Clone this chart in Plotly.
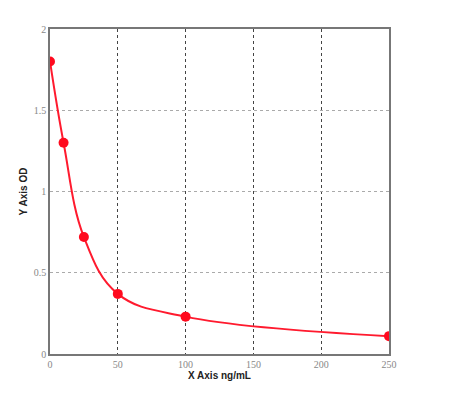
import plotly.graph_objects as go

conc = [0, 10, 25, 50, 100, 250]
od = [1.80, 1.30, 0.72, 0.37, 0.23, 0.11]
x_ticks = [0, 50, 100, 150, 200, 250]
y_ticks = [0, 0.5, 1, 1.5, 2]
y_tick_text = ["0", "0.5", "1", "1.5", "2"]

fig = go.Figure()
fig.add_trace(go.Scatter(
    x=conc, y=od, mode="lines",
    line=dict(color="#ff1a2e", width=2, shape="spline", smoothing=1.1),
    hoverinfo="skip", showlegend=False))
fig.add_trace(go.Scatter(
    x=conc, y=od, mode="markers",
    marker=dict(color="#ff0a1e", size=10),
    showlegend=False))

fig.update_layout(
    width=450, height=403,
    margin=dict(l=42, r=69, t=21, b=57, autoexpand=False),
    paper_bgcolor="white", plot_bgcolor="white",
    font=dict(family="Liberation Serif, DejaVu Serif, serif", size=10, color="#888"),
)
fig.update_xaxes(
    range=[0, 250], tickvals=x_ticks, ticks="", showline=True, linecolor="#777",
    linewidth=1.5, mirror=True, showgrid=True, gridcolor="#444", griddash="dot",
    gridwidth=1, zeroline=False, tickfont=dict(size=10, color="#888"), automargin=False,
    title=dict(text="X Axis ng/mL", font=dict(size=10, color="#222",
               family="Liberation Sans, Arial, sans-serif", weight="bold"), standoff=0),
)
fig.update_yaxes(
    range=[0, 2], tickvals=y_ticks, ticktext=y_tick_text, ticks="", showline=True,
    linecolor="#777", linewidth=1.5, mirror=True, showgrid=True, gridcolor="#aaa",
    griddash="dot", gridwidth=1, zeroline=False, tickfont=dict(size=10, color="#888"),
    automargin=False,
    title=dict(text="Y Axis OD", font=dict(size=10, color="#222",
               family="Liberation Sans, Arial, sans-serif", weight="bold"), standoff=4),
)
fig.write_html("out.html")
